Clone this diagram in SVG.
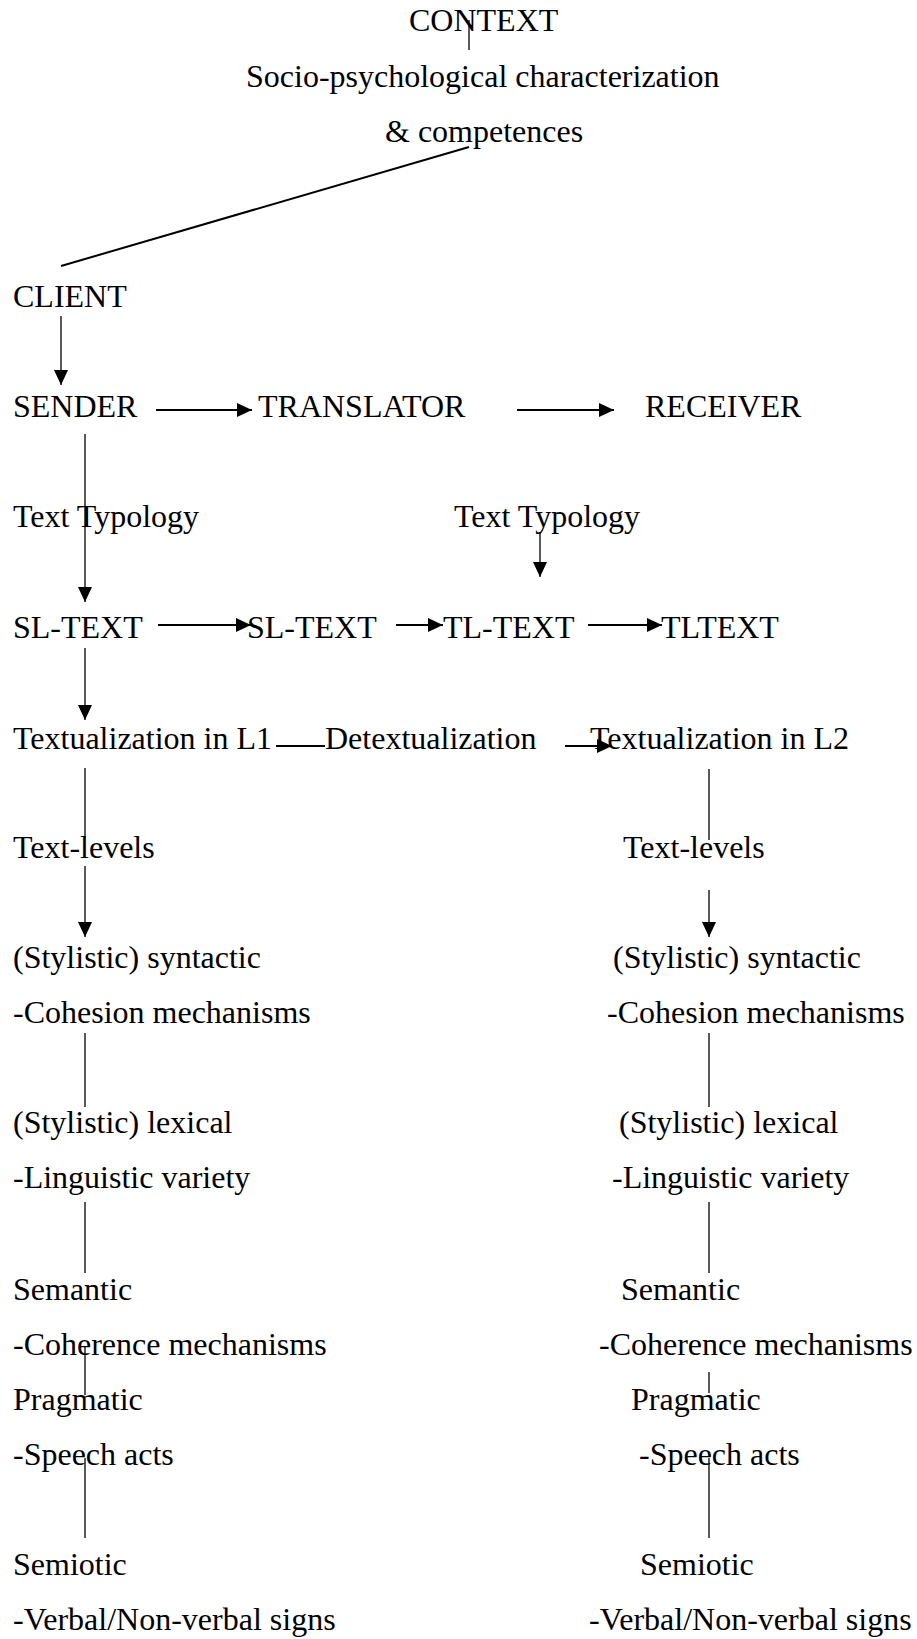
<svg xmlns="http://www.w3.org/2000/svg" width="917" height="1639" viewBox="0 0 917 1639">
<style>
text{font-family:"Liberation Serif","Times New Roman",serif;font-size:32px;fill:#000}
.l{stroke:#000;stroke-width:1.3;fill:none}
.h{stroke:#000;stroke-width:2;fill:none}
</style>
<defs>
<marker id="ah" markerUnits="userSpaceOnUse" markerWidth="16" markerHeight="16" refX="15" refY="7" orient="auto" viewBox="0 0 16 16">
<path d="M0,0 L15,7 L0,14 z" fill="#000"/>
</marker>
</defs>
<rect width="917" height="1639" fill="#fff"/>
<g id="connectors">
<line class="l" x1="469" y1="20" x2="469" y2="50"/>
<line class="h" x1="469" y1="147" x2="61" y2="266"/>
<line class="l" x1="61" y1="316" x2="61" y2="385" marker-end="url(#ah)"/>
<line class="h" x1="156" y1="410" x2="252" y2="410" marker-end="url(#ah)"/>
<line class="h" x1="517" y1="410" x2="614" y2="410" marker-end="url(#ah)"/>
<line class="l" x1="85" y1="434" x2="85" y2="602" marker-end="url(#ah)"/>
<line class="l" x1="540" y1="532" x2="540" y2="577" marker-end="url(#ah)"/>
<line class="h" x1="158" y1="625" x2="251" y2="625" marker-end="url(#ah)"/>
<line class="h" x1="396" y1="625" x2="443" y2="625" marker-end="url(#ah)"/>
<line class="h" x1="588" y1="625" x2="662" y2="625" marker-end="url(#ah)"/>
<line class="l" x1="85" y1="648" x2="85" y2="720" marker-end="url(#ah)"/>
<line class="h" x1="276" y1="746" x2="325" y2="746"/>
<line class="h" x1="565" y1="746" x2="612" y2="746" marker-end="url(#ah)"/>
<line class="l" x1="85" y1="768" x2="85" y2="838"/>
<line class="l" x1="709" y1="769" x2="709" y2="840"/>
<line class="l" x1="85" y1="866" x2="85" y2="937" marker-end="url(#ah)"/>
<line class="l" x1="709" y1="890" x2="709" y2="937" marker-end="url(#ah)"/>
<line class="l" x1="85" y1="1033" x2="85" y2="1107"/>
<line class="l" x1="709" y1="1033" x2="709" y2="1107"/>
<line class="l" x1="85" y1="1202" x2="85" y2="1273"/>
<line class="l" x1="709" y1="1202" x2="709" y2="1273"/>
<line class="l" x1="85" y1="1347" x2="85" y2="1395"/>
<line class="l" x1="709" y1="1372" x2="709" y2="1393"/>
<line class="l" x1="85" y1="1458" x2="85" y2="1538"/>
<line class="l" x1="709" y1="1458" x2="709" y2="1538"/>
</g>
<g id="context"><text x="409" y="31">CONTEXT</text></g>
<g id="socio"><text x="246" y="87">Socio-psychological characterization</text><text x="385" y="142">&amp; competences</text></g>
<g id="client"><text x="13" y="307">CLIENT</text></g>
<g id="sender"><text x="13" y="417">SENDER</text></g>
<g id="translator"><text x="258" y="417">TRANSLATOR</text></g>
<g id="receiver"><text x="645" y="417">RECEIVER</text></g>
<g id="typology-l"><text x="13" y="527">Text Typology</text></g>
<g id="typology-r"><text x="454" y="527">Text Typology</text></g>
<g id="sl-text-1"><text x="13" y="638">SL-TEXT</text></g>
<g id="sl-text-2"><text x="247" y="638">SL-TEXT</text></g>
<g id="tl-text"><text x="443" y="638">TL-TEXT</text></g>
<g id="tltext"><text x="661" y="638">TLTEXT</text></g>
<g id="textualization-l1"><text x="13" y="749">Textualization in L1</text></g>
<g id="detextualization"><text x="325" y="749">Detextualization</text></g>
<g id="textualization-l2"><text x="590" y="749">Textualization in L2</text></g>
<g id="levels-l"><text x="13" y="858">Text-levels</text></g>
<g id="levels-r"><text x="623" y="858">Text-levels</text></g>
<g id="syntactic-l"><text x="13" y="968">(Stylistic) syntactic</text><text x="13" y="1023">-Cohesion mechanisms</text></g>
<g id="syntactic-r"><text x="613" y="968">(Stylistic) syntactic</text><text x="607" y="1023">-Cohesion mechanisms</text></g>
<g id="lexical-l"><text x="13" y="1133">(Stylistic) lexical</text><text x="13" y="1188">-Linguistic variety</text></g>
<g id="lexical-r"><text x="619" y="1133">(Stylistic) lexical</text><text x="612" y="1188">-Linguistic variety</text></g>
<g id="semantic-l"><text x="13" y="1300">Semantic</text><text x="13" y="1355">-Coherence mechanisms</text></g>
<g id="semantic-r"><text x="621" y="1300">Semantic</text><text x="599" y="1355">-Coherence mechanisms</text></g>
<g id="pragmatic-l"><text x="13" y="1410">Pragmatic</text><text x="13" y="1465">-Speech acts</text></g>
<g id="pragmatic-r"><text x="631" y="1410">Pragmatic</text><text x="639" y="1465">-Speech acts</text></g>
<g id="semiotic-l"><text x="13" y="1575">Semiotic</text><text x="13" y="1630">-Verbal/Non-verbal signs</text></g>
<g id="semiotic-r"><text x="640" y="1575">Semiotic</text><text x="589" y="1630">-Verbal/Non-verbal signs</text></g>
</svg>
